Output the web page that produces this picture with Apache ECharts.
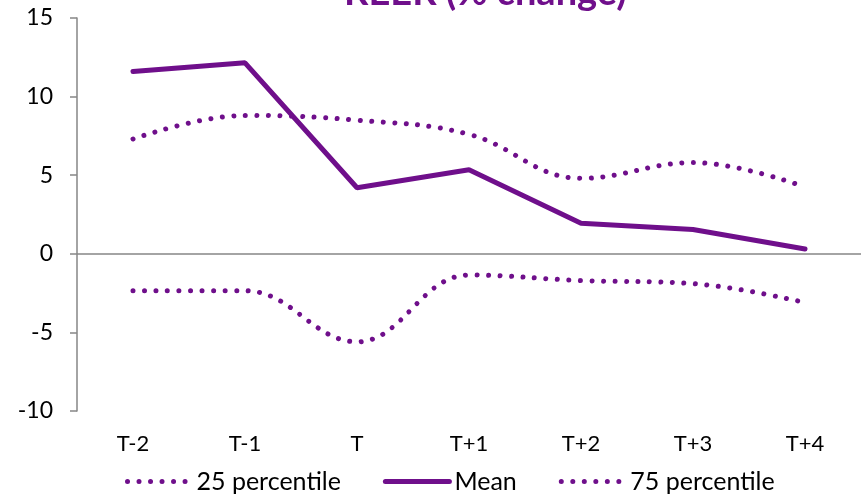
<!DOCTYPE html>
<html>
<head>
<meta charset="utf-8">
<script src="https://cdn.jsdelivr.net/npm/echarts@6/dist/echarts.min.js"></script>
<style>
    html, body { margin: 0; padding: 0; background: #fff; }
    #chart { width: 862px; height: 497px; }
</style>
</head>
<body>
<div id="chart"></div>
<script>
// 期间
var categories = ['T-2', 'T-1', 'T', 'T+1', 'T+2', 'T+3', 'T+4'];
// REER 变化
var meanData = [11.6, 12.15, 4.2, 5.35, 1.95, 1.55, 0.3];
var p25Data = [-2.35, -2.35, -5.6, -1.35, -1.7, -1.9, -3.1];
var p75Data = [7.3, 8.8, 8.5, 7.6, 4.8, 5.8, 4.25];
var yTicks = { min: -10, max: 15, interval: 5 };

var purple = '#6F0F8B';
var font = 'Lato, "Open Sans", sans-serif';

var dotted = {
    width: 5,
    color: purple,
    type: [0.01, 11.5],
    cap: 'round'
};

var chart = echarts.init(document.getElementById('chart'));
var option = {
    animation: false,
    textStyle: { fontFamily: font },
    title: {
        text: 'REER (% change)',
        left: 339,
        top: -31,
        textStyle: { color: purple, fontSize: 38, fontWeight: 'bold', fontFamily: font }
    },
    grid: { left: 77, right: 1, top: 18, bottom: 86 },
    legend: {
        bottom: -2,
        left: 120,
        itemWidth: 64,
        itemHeight: 14,
        itemGap: 42,
        itemStyle: { opacity: 0 },
        lineStyle: { width: 5 },
        textStyle: { fontSize: 25, color: '#000', fontFamily: font },
        data: ['25 percentile', 'Mean', '75 percentile']
    },
    xAxis: {
        type: 'category',
        data: categories,
        boundaryGap: true,
        axisLine: { show: false },
        axisTick: { show: false },
        axisLabel: { color: '#000', fontSize: 22, margin: 22, fontFamily: font }
    },
    yAxis: {
        type: 'value',
        min: yTicks.min,
        max: yTicks.max,
        interval: yTicks.interval,
        axisLine: { show: true, lineStyle: { color: '#868686', width: 1.5 } },
        axisTick: { show: true, length: 7, lineStyle: { color: '#868686', width: 1.5 } },
        axisLabel: { color: '#000', fontSize: 23, margin: 24, fontFamily: font },
        splitLine: { show: false }
    },
    series: [
        {
            name: '25 percentile',
            type: 'line',
            data: p25Data,
            smooth: 0.4,
            symbol: 'none',
            lineStyle: dotted,
            itemStyle: { color: purple },
            markLine: {
                silent: true,
                symbol: 'none',
                label: { show: false },
                lineStyle: { color: '#868686', width: 1.5, type: 'solid' },
                data: [{ yAxis: 0 }]
            }
        },
        {
            name: 'Mean',
            type: 'line',
            data: meanData,
            symbol: 'none',
            lineStyle: { width: 5, color: purple, cap: 'round' },
            itemStyle: { color: purple }
        },
        {
            name: '75 percentile',
            type: 'line',
            data: p75Data,
            smooth: 0.4,
            symbol: 'none',
            lineStyle: dotted,
            itemStyle: { color: purple }
        }
    ]
};
chart.setOption(option);
</script>
</body>
</html>
